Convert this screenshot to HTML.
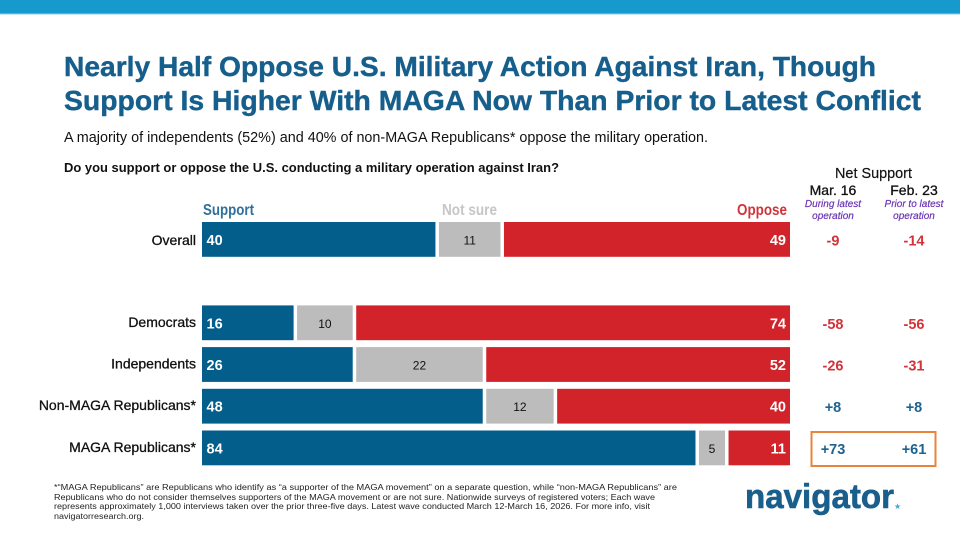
<!DOCTYPE html>
<html lang="en">
<head>
<meta charset="utf-8">
<title>Nearly Half Oppose U.S. Military Action Against Iran</title>
<style>
html,body{margin:0;padding:0;background:#fff;width:960px;height:540px;overflow:hidden}
svg{display:block;font-family:"Liberation Sans",sans-serif}
</style>
</head>
<body>
<svg id="chart" width="960" height="540" viewBox="0 0 960 540" xmlns="http://www.w3.org/2000/svg">
<rect x="0" y="0" width="960" height="13.5" fill="#169ace"/>
<rect x="0" y="13.5" width="960" height="1" fill="#8fcdea"/>
<g font-size="28" font-weight="700" fill="#165f8c" stroke="#165f8c" stroke-width="0.4">
<text x="64" y="76" textLength="812" lengthAdjust="spacingAndGlyphs">Nearly Half Oppose U.S. Military Action Against Iran, Though</text>
<text x="64" y="110" textLength="857" lengthAdjust="spacingAndGlyphs">Support Is Higher With MAGA Now Than Prior to Latest Conflict</text>
</g>
<text x="64" y="142" font-size="15" fill="#111" textLength="644" lengthAdjust="spacingAndGlyphs">A majority of independents (52%) and 40% of non-MAGA Republicans* oppose the military operation.</text>
<text x="64" y="172" font-size="13" font-weight="700" fill="#111" textLength="495" lengthAdjust="spacingAndGlyphs">Do you support or oppose the U.S. conducting a military operation against Iran?</text>

<text x="203" y="215" font-size="15.5" font-weight="700" fill="#2f6f9b" textLength="51" lengthAdjust="spacingAndGlyphs">Support</text>
<text x="442" y="215" font-size="15.5" font-weight="700" fill="#c6c6c6" textLength="55" lengthAdjust="spacingAndGlyphs">Not sure</text>
<text x="737" y="215" font-size="15.5" font-weight="700" fill="#d0343a" textLength="50" lengthAdjust="spacingAndGlyphs">Oppose</text>

<text x="835" y="178" font-size="14.5" fill="#111" textLength="77" lengthAdjust="spacingAndGlyphs" stroke="#111" stroke-width="0.2">Net Support</text>
<text x="833" y="195" text-anchor="middle" font-size="14" fill="#111" stroke="#111" stroke-width="0.3">Mar. 16</text>
<text x="914" y="195" text-anchor="middle" font-size="14" fill="#111" stroke="#111" stroke-width="0.3">Feb. 23</text>
<g font-size="10" font-style="italic" fill="#6a35b5" stroke="#6a35b5" stroke-width="0.2" text-anchor="middle">
<text x="833" y="207">During latest</text>
<text x="833" y="219">operation</text>
<text x="914" y="207">Prior to latest</text>
<text x="914" y="219">operation</text>
</g>

<g id="bars"></g>
<g id="net"></g>

<rect x="811.5" y="432" width="124" height="34" fill="none" stroke="#e8843c" stroke-width="2"/>

<g font-size="8.6" fill="#222">
<text x="54" y="490" textLength="623" lengthAdjust="spacingAndGlyphs">*“MAGA Republicans” are Republicans who identify as “a supporter of the MAGA movement” on a separate question, while “non-MAGA Republicans” are</text>
<text x="54" y="500" textLength="601" lengthAdjust="spacingAndGlyphs">Republicans who do not consider themselves supporters of the MAGA movement or are not sure. Nationwide surveys of registered voters; Each wave</text>
<text x="54" y="509" textLength="596" lengthAdjust="spacingAndGlyphs">represents approximately 1,000 interviews taken over the prior three-five days. Latest wave conducted March 12-March 16, 2026. For more info, visit</text>
<text x="54" y="519" textLength="90" lengthAdjust="spacingAndGlyphs">navigatorresearch.org.</text>
</g>

<text x="745" y="508" font-size="34" font-weight="700" fill="#1a5f8c" stroke="#1a5f8c" stroke-width="0.6" textLength="149" lengthAdjust="spacingAndGlyphs">navigator</text>
<text x="894" y="509" font-size="8" fill="#3fa7d6">★</text>
</svg>
<script>
var categories = ['Overall', 'Democrats', 'Independents', 'Non-MAGA Republicans*', 'MAGA Republicans*'];
var support = [40, 16, 26, 48, 84];
var notSure = [11, 10, 22, 12, 5];
var oppose = [49, 74, 52, 40, 11];
var netMar16 = ['-9', '-58', '-26', '+8', '+73'];
var netFeb23 = ['-14', '-56', '-31', '+8', '+61'];
var rowSlots = [0, 2, 3, 4, 5];

var NS = 'http://www.w3.org/2000/svg';
var barsG = document.getElementById('bars');
var netG = document.getElementById('net');
var BAR_LEFT = 202, BAR_RIGHT = 790, GAP = 1.75;
var BLUE = '#035e8c', GREY = '#bcbcbc', RED = '#d2232a';

function xScale(v) { return 200.8 + 5.91 * v; }
function rowTop(slot) { return 222 + 41.7 * slot; }
var BAR_H = 34.8;

function addRect(parent, x, y, w, h, fill) {
  var r = document.createElementNS(NS, 'rect');
  r.setAttribute('x', x);
  r.setAttribute('y', y);
  r.setAttribute('width', Math.max(0, w));
  r.setAttribute('height', h);
  r.setAttribute('fill', fill);
  parent.appendChild(r);
  return r;
}
function addText(parent, x, y, str, size, fill, anchor, weight) {
  var t = document.createElementNS(NS, 'text');
  t.setAttribute('x', x);
  t.setAttribute('y', y);
  t.setAttribute('font-size', size);
  t.setAttribute('fill', fill);
  t.setAttribute('text-anchor', anchor);
  t.setAttribute('font-weight', weight);
  t.textContent = str;
  parent.appendChild(t);
  return t;
}

categories.forEach(function (cat, i) {
  var top = rowTop(rowSlots[i]);
  var mid = top + BAR_H / 2 + 5;
  var a = support[i], b = notSure[i], c = oppose[i];
  var xa = xScale(a), xb = xScale(a + b);
  var labelY = i === 0 ? mid + 0.5 : mid - 1;

  var label = addText(barsG, 196, labelY, cat, 14, '#111', 'end', 400);
  label.setAttribute('stroke', '#111');
  label.setAttribute('stroke-width', '0.3');
  
  

  var r1 = addRect(barsG, BAR_LEFT, top, xa - GAP - BAR_LEFT, BAR_H, BLUE);
  
  

  var r2 = addRect(barsG, xa + GAP, top, xb - xa - 2 * GAP, BAR_H, GREY);
  
  

  var r3 = addRect(barsG, xb + GAP, top, BAR_RIGHT - xb - GAP, BAR_H, RED);
  
  

  var t1 = addText(barsG, BAR_LEFT + 4.5, mid + 0.5, a, 14.5, '#fff', 'start', 700);
  
  

  var t2 = addText(barsG, (xa + xb) / 2, mid, b, 12, '#111', 'middle', 400);
  
  

  var t3 = addText(barsG, BAR_RIGHT - 4, mid + 0.5, c, 14.5, '#fff', 'end', 700);
  
  

  [[833, netMar16[i]], [914, netFeb23[i]]].forEach(function (p) {
    var col = p[1].charAt(0) === '+' ? '#1d6291' : '#d0343a';
    var n = addText(netG, p[0], mid + 1, p[1], 14.5, col, 'middle', 700);
    
    
  });
});
</script>
</body>
</html>
